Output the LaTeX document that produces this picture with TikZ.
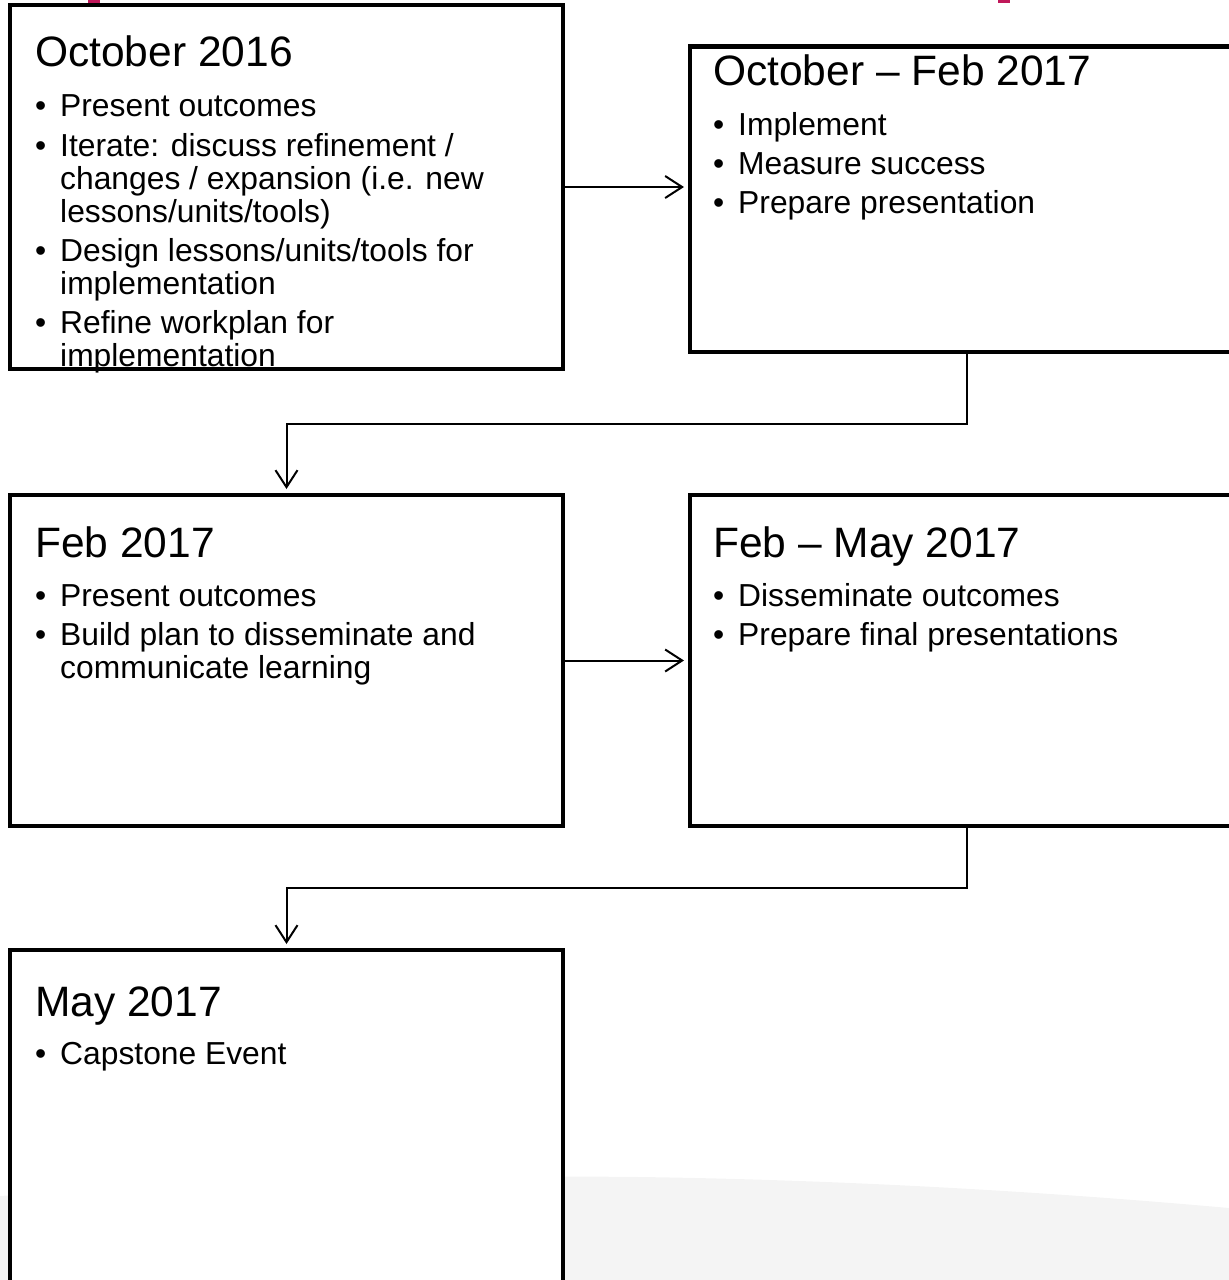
\documentclass[tikz,border=0pt]{standalone}
\usepackage{fontspec}
\setmainfont{Liberation Sans}
\usetikzlibrary{arrows.meta,calc}
\definecolor{markred}{RGB}{192,24,90}
\definecolor{bgshape}{RGB}{244,244,244}
\tikzset{
 stagebox/.style={draw=black,line width=4.5bp,fill=white,rectangle,inner sep=0pt,outer sep=0pt,minimum width=553bp},
 ttl/.style={anchor=base west,inner sep=0pt,font=\fontsize{42.5bp}{51bp}\selectfont},
 btxt/.style={anchor=base west,inner sep=0pt,font=\fontsize{31.8bp}{33bp}\selectfont},
 arr/.style={line width=2bp,shorten >=6bp,-{Straight Barb[length=17bp,width=22bp]}},
}
\newcommand\bitem[4]{\node[btxt] (#1b) at (#2,#3) {•}; \node[btxt] (#1) at (#2+25,#3) {#4};}
\newcommand\bcont[4]{\node[btxt] (#1) at (#2+25,#3) {#4};}
\begin{document}
\begin{tikzpicture}[x=1bp,y=-1bp]
\useasboundingbox (0,0) rectangle (1229,1280);
\clip (0,0) rectangle (1229,1280);
\fill[bgshape] (0,1196) .. controls (250,1180) and (450,1175) .. (640,1177) .. controls (850,1180) and (1050,1192) .. (1229,1208) -- (1229,1280) -- (0,1280) -- cycle;
\fill[markred] (88,0) rectangle (100,3);
\fill[markred] (998,0) rectangle (1010,3);
% boxes
\node[stagebox,minimum height=364bp] (b1) at (286.5,187) {};
\node[stagebox,minimum height=305.5bp] (b2) at (966.5,199.25) {};
\node[stagebox,minimum height=331bp] (b3) at (286.5,660.5) {};
\node[stagebox,minimum height=331bp] (b4) at (966.5,660.5) {};
\node[stagebox,minimum height=340bp] (b5) at (286.5,1120) {};
% connectors
\draw[arr] (b1.east) -- (b2.west |- b1.east);
\draw[arr] (b3.east) -- (b4.west |- b3.east);
\draw[arr] (b2.south) |- ($(b2.south)!.5!(b3.north)$) -| (b3.north);
\draw[arr] (b4.south) |- ($(b4.south)!.5!(b5.north)$) -| (b5.north);
% box 1
\node[ttl] (t1) at (35,66) {October 2016};
\bitem{t1a}{35}{116}{Present outcomes}
\bitem{t1b}{35}{156}{Iterate: discuss refinement /}
\bcont{t1c}{35}{189}{changes / expansion (i.e. new}
\bcont{t1d}{35}{222}{lessons/units/tools)}
\bitem{t1e}{35}{261}{Design lessons/units/tools for}
\bcont{t1f}{35}{294}{implementation}
\bitem{t1g}{35}{333}{Refine workplan for}
\bcont{t1h}{35}{366}{implementation}
% box 2
\node[ttl] (t2) at (713,85) {October – Feb 2017};
\bitem{t2a}{713}{135}{Implement}
\bitem{t2b}{713}{174}{Measure success}
\bitem{t2c}{713}{213}{Prepare presentation}
% box 3
\node[ttl] (t3) at (35,557) {Feb 2017};
\bitem{t3a}{35}{606}{Present outcomes}
\bitem{t3b}{35}{645}{Build plan to disseminate and}
\bcont{t3c}{35}{678}{communicate learning}
% box 4
\node[ttl] (t4) at (713,557) {Feb – May 2017};
\bitem{t4a}{713}{606}{Disseminate outcomes}
\bitem{t4b}{713}{645}{Prepare final presentations}
% box 5
\node[ttl] (t5) at (35,1016) {May 2017};
\bitem{t5a}{35}{1064}{Capstone Event}
\end{tikzpicture}
\end{document}
